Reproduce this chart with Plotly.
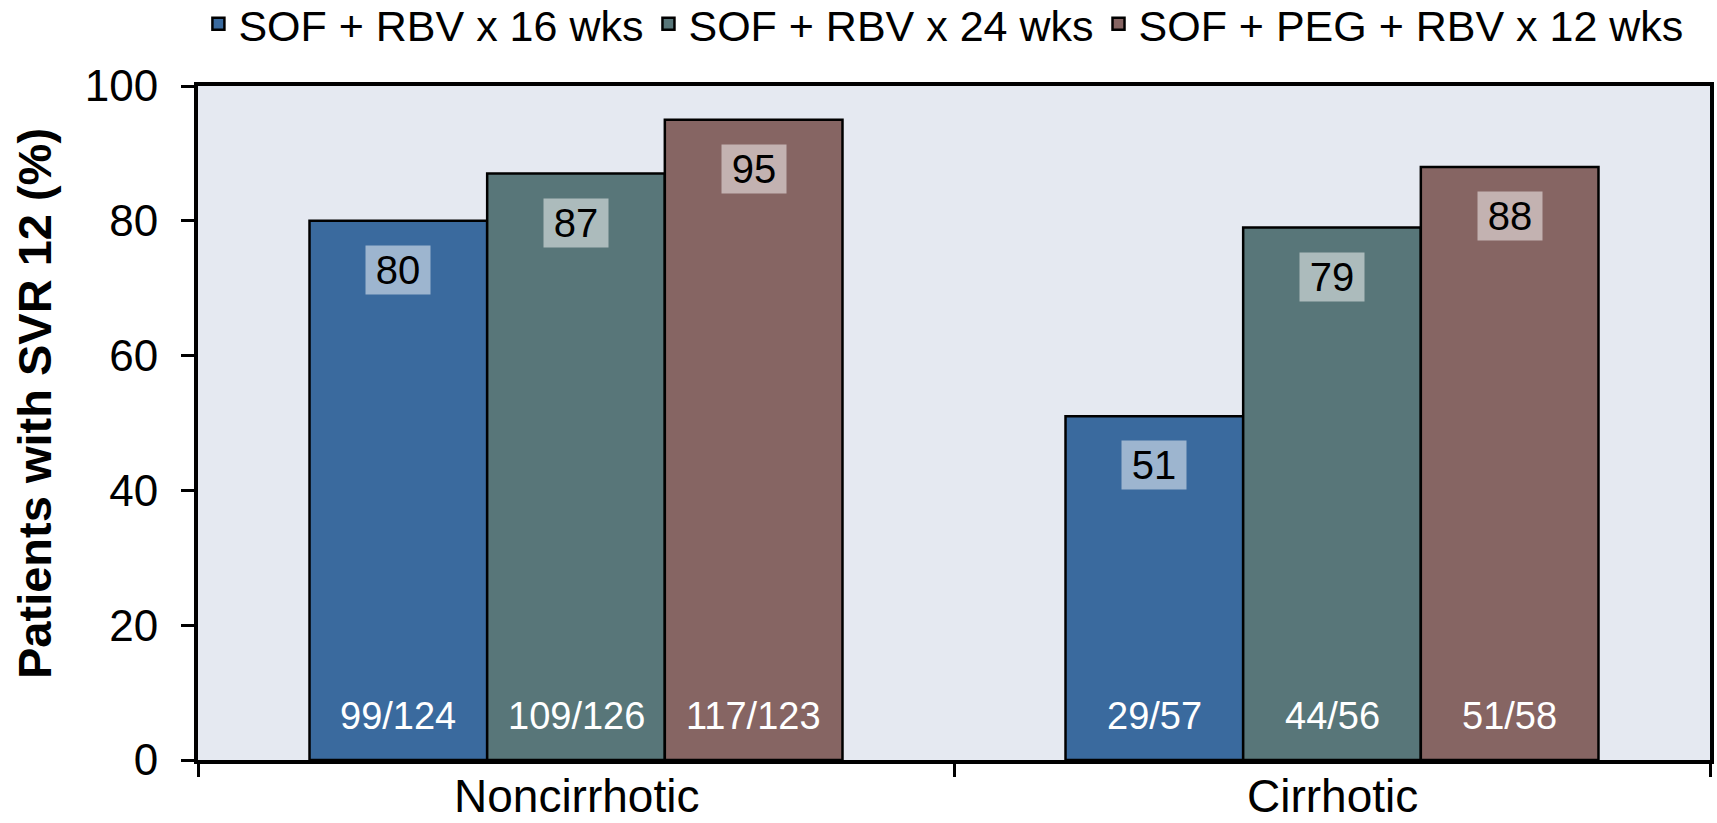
import plotly.graph_objects as go

categories = ["Noncirrhotic", "Cirrhotic"]
series_names = ["SOF + RBV x 16 wks", "SOF + RBV x 24 wks", "SOF + PEG + RBV x 12 wks"]
svr_16 = [80, 51]
svr_24 = [87, 79]
svr_peg = [95, 88]
n_16 = ["99/124", "29/57"]
n_24 = ["109/126", "44/56"]
n_peg = ["117/123", "51/58"]
y_title = "Patients with SVR 12 (%)"

values = [svr_16, svr_24, svr_peg]
counts = [n_16, n_24, n_peg]
colors = ["#3A6A9E", "#587679", "#866563"]

W, H = 1717, 823
margin = dict(l=198, r=7, t=86, b=63, autoexpand=False)
bargap = 0.295
plot_w = W - margin["l"] - margin["r"]
bar_px = plot_w / len(categories) * (1 - bargap) / len(series_names)

FONT = "Arial, Liberation Sans, sans-serif"

fig = go.Figure()
for name, vals, col in zip(series_names, values, colors):
    fig.add_trace(go.Bar(
        x=categories, y=vals, name=name,
        marker=dict(color=col, line=dict(color="#000000", width=2.5)),
    ))

annotations = []
for i, (vals, cnts) in enumerate(zip(values, counts)):
    shift = (i - 1) * bar_px
    for cat, v, c in zip(categories, vals, cnts):
        annotations.append(dict(
            x=cat, y=v, xref="x", yref="y", text=str(v), showarrow=False,
            xshift=shift, yanchor="top", yshift=-24,
            font=dict(family=FONT, size=40, color="#000000"),
            bgcolor="rgba(255,255,255,0.5)", borderpad=2, width=60,
        ))
        annotations.append(dict(
            x=cat, y=0, xref="x", yref="y", text=c, showarrow=False,
            xshift=shift, yanchor="middle", yshift=44,
            font=dict(family=FONT, size=38, color="#FFFFFF"),
        ))

for cat in categories:
    annotations.append(dict(
        x=cat, y=0, xref="x", yref="paper", text=cat, showarrow=False,
        yanchor="middle", yshift=-36,
        font=dict(family=FONT, size=46, color="#000000"),
    ))

annotations.append(dict(
    text="<b>" + y_title + "</b>", xref="paper", yref="paper", x=0, y=0.5,
    xanchor="center", yanchor="middle", xshift=-164, yshift=19,
    textangle=-90, showarrow=False,
    font=dict(family=FONT, size=47, color="#000000"),
))

fig.update_layout(
    width=W, height=H,
    margin=margin,
    barmode="group", bargap=bargap, bargroupgap=0,
    plot_bgcolor="#E5E9F1", paper_bgcolor="#FFFFFF",
    font=dict(family=FONT, color="#000000"),
    legend=dict(orientation="h", x=0.493, xanchor="center", xref="paper",
                y=0.971, yref="container", yanchor="middle",
                font=dict(family=FONT, size=43, color="#000000"),
                itemwidth=30, tracegroupgap=0),
    annotations=annotations,
    showlegend=True,
)
fig.update_xaxes(
    showline=True, linecolor="#000000", linewidth=4, mirror=True,
    ticks="outside", tickson="boundaries", ticklen=13, tickwidth=3, tickcolor="#000000",
    showticklabels=False,
    showgrid=False,
)
fig.update_yaxes(
    range=[0, 100], tickvals=[0, 20, 40, 60, 80, 100],
    showline=True, linecolor="#000000", linewidth=4, mirror=True,
    ticks="outside", ticklen=13, tickwidth=3, tickcolor="#000000",
    tickfont=dict(family=FONT, size=44, color="#000000"),
    ticklabelstandoff=14,
    showgrid=False, zeroline=False,
)

fig.write_html(
    "out.html",
    config={"displayModeBar": False},
    post_script="document.body.style.margin='0';document.body.style.overflow='hidden';",
)
